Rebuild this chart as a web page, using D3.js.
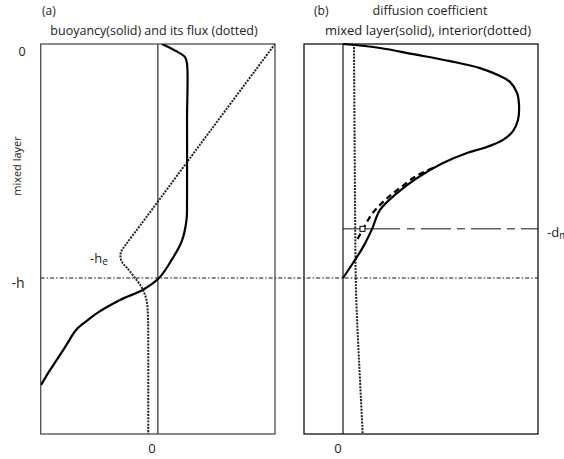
<!DOCTYPE html>
<html>
<head>
<meta charset="utf-8">
<script src="https://cdn.jsdelivr.net/npm/d3@7"></script>
<style>
  body { margin: 0; background: #fff; }
  svg text { font-family: "Open Sans", sans-serif; fill: #222; }
</style>
</head>
<body>
<div class="chartdiv"></div>
<script>
//depth is in units of h (0 = surface, -1 = -h)

//panel (a): buoyancy (solid)
var buoyDepth = [0, -0.03, -0.056, -0.085, -0.33, -0.67, -0.75, -0.84, -0.92, -1,
    -1.05, -1.094, -1.15, -1.179, -1.222, -1.286, -1.35, -1.402, -1.457];
var buoyValue = [0.035, 0.155, 0.232, 0.249, 0.249, 0.249, 0.245, 0.206, 0.121, 0.01,
    -0.127, -0.323, -0.519, -0.596, -0.698, -0.78, -0.863, -0.932, -0.997];

//panel (a): buoyancy flux (dotted)
var fluxDepth = [0, -0.43, -0.775, -0.859, -0.889, -0.91, -0.932, -0.957, -1,
    -1.043, -1.094, -1.171, -1.265, -1.667];
var fluxValue = [1.0, 0.36, -0.15, -0.276, -0.315, -0.319, -0.306, -0.263, -0.195,
    -0.135, -0.097, -0.084, -0.082, -0.082];

//panel (b): mixed layer diffusivity (solid)
var mixDepth = [0, -0.017, -0.043, -0.073, -0.103, -0.137, -0.162, -0.209, -0.261, -0.325,
    -0.372, -0.41, -0.44, -0.466, -0.509, -0.573, -0.637, -0.709, -0.791, -0.868, -0.936, -1];
var mixValue = [0, 0.949, 1.795, 2.744, 3.513, 4.026, 4.282, 4.462, 4.513, 4.487,
    4.359, 4.103, 3.692, 3.179, 2.564, 1.897, 1.385, 0.949, 0.744, 0.513, 0.256, 0];

//panel (b): matched profile above -dm (dashed)
var matchDepth = [-0.53, -0.56, -0.615, -0.667, -0.726, -0.791, -0.838];
var matchValue = [2.308, 1.923, 1.462, 1.077, 0.744, 0.513, 0.359];

//panel (b): interior diffusivity (dotted)
var intDepth = [0, -0.667, -1.051, -1.265, -1.436, -1.667];
var intValue = [0.282, 0.308, 0.333, 0.385, 0.436, 0.505];

//reference levels
var hLevel = -1;
var heLevel = -0.91;
var dmLevel = -0.79;
var dmSolidEnd = 1.46;
var matchPoint = [0.5, -0.79];

var width = 564, height = 459;

var svg = d3.select("div.chartdiv")
    .append("svg")
    .attr("width", width)
    .attr("height", height);

//shared depth scale
var y = d3.scaleLinear().domain([0, -1.6667]).range([44, 434]);

//x scales for each panel
var xa = d3.scaleLinear().domain([-1, 1]).range([40.7, 275]);
var xb = d3.scaleLinear().domain([-1, 5]).range([304, 538]);

function profile(xs, vals, deps){
    return d3.line()
        .x(function(d, i){ return xs(vals[i]); })
        .y(function(d, i){ return y(deps[i]); })
        .curve(d3.curveCatmullRom.alpha(0.5))(deps);
}

// ---- panel (a) ----
var ga = svg.append("g").attr("class", "panelA");

ga.append("rect")
    .attr("x", xa(-1)).attr("y", y(0))
    .attr("width", xa(1) - xa(-1))
    .attr("height", y(-1.6667) - y(0))
    .style("fill", "none")
    .style("stroke", "#4d4d4d")
    .style("stroke-width", 1.3);

ga.append("line")
    .attr("x1", xa(0)).attr("x2", xa(0))
    .attr("y1", y(0)).attr("y2", y(-1.6667))
    .style("stroke", "#555")
    .style("stroke-width", 1.5);

//clip curves to panel box
svg.append("clipPath").attr("id", "clipA")
    .append("rect")
    .attr("x", xa(-1)).attr("y", y(0))
    .attr("width", xa(1) - xa(-1))
    .attr("height", y(-1.6667) - y(0));

ga.append("path")
    .attr("d", profile(xa, fluxValue, fluxDepth))
    .attr("clip-path", "url(#clipA)")
    .style("fill", "none")
    .style("stroke", "#222")
    .style("stroke-width", 2)
    .style("stroke-dasharray", "2,1.2");

ga.append("path")
    .attr("d", profile(xa, buoyValue, buoyDepth))
    .attr("clip-path", "url(#clipA)")
    .style("fill", "none")
    .style("stroke", "#000")
    .style("stroke-width", 2.2);

// ---- panel (b) ----
var gb = svg.append("g").attr("class", "panelB");

gb.append("rect")
    .attr("x", xb(-1)).attr("y", y(0))
    .attr("width", xb(5) - xb(-1))
    .attr("height", y(-1.6667) - y(0))
    .style("fill", "none")
    .style("stroke", "#111")
    .style("stroke-width", 1.3);

gb.append("line")
    .attr("x1", xb(0)).attr("x2", xb(0))
    .attr("y1", y(0)).attr("y2", y(-1.6667))
    .style("stroke", "#111")
    .style("stroke-width", 1.2);

//-dm level
gb.append("line")
    .attr("x1", xb(0)).attr("x2", xb(dmSolidEnd))
    .attr("y1", y(dmLevel)).attr("y2", y(dmLevel))
    .style("stroke", "#111")
    .style("stroke-width", 1);
gb.append("line")
    .attr("x1", xb(dmSolidEnd) + 7).attr("x2", xb(5))
    .attr("y1", y(dmLevel)).attr("y2", y(dmLevel))
    .style("stroke", "#111")
    .style("stroke-width", 1)
    .style("stroke-dasharray", "8,6,30,6");

gb.append("path")
    .attr("d", profile(xb, intValue, intDepth))
    .style("fill", "none")
    .style("stroke", "#222")
    .style("stroke-width", 2)
    .style("stroke-dasharray", "2,1.2");

gb.append("path")
    .attr("d", profile(xb, matchValue, matchDepth))
    .style("fill", "none")
    .style("stroke", "#000")
    .style("stroke-width", 2.2)
    .style("stroke-dasharray", "6,4");

gb.append("path")
    .attr("d", profile(xb, mixValue, mixDepth))
    .style("fill", "none")
    .style("stroke", "#000")
    .style("stroke-width", 2.2);

gb.append("rect")
    .attr("x", xb(matchPoint[0]) - 2.5)
    .attr("y", y(matchPoint[1]) - 2.5)
    .attr("width", 5).attr("height", 5)
    .style("fill", "#fff")
    .style("stroke", "#000")
    .style("stroke-width", 1);

//-h level across both panels
svg.append("line")
    .attr("x1", xa(-1)).attr("x2", xb(5))
    .attr("y1", y(hLevel)).attr("y2", y(hLevel))
    .style("stroke", "#111")
    .style("stroke-width", 1)
    .style("stroke-dasharray", "4,2,1.5,2");

// ---- labels ----
svg.append("text").attr("x", 42).attr("y", 15)
    .style("font-size", "12px").text("(a)");
svg.append("text").attr("x", 154).attr("y", 35)
    .attr("text-anchor", "middle")
    .style("font-size", "12.5px")
    .text("buoyancy(solid) and its flux (dotted)");

svg.append("text").attr("x", 314).attr("y", 15)
    .style("font-size", "12px").text("(b)");
svg.append("text").attr("x", 430).attr("y", 15)
    .attr("text-anchor", "middle")
    .style("font-size", "12.5px")
    .text("diffusion coefficient");
svg.append("text").attr("x", 428).attr("y", 35)
    .attr("text-anchor", "middle")
    .style("font-size", "13px")
    .text("mixed layer(solid), interior(dotted)");

svg.append("text").attr("x", 22).attr("y", y(0) + 12)
    .attr("text-anchor", "middle")
    .style("font-size", "12.5px").text("0");

svg.append("text")
    .attr("transform", "translate(21," + 166 + ") rotate(-90)")
    .attr("text-anchor", "middle")
    .style("font-size", "11px")
    .text("mixed layer");

svg.append("text").attr("x", 18).attr("y", y(hLevel) + 10)
    .attr("text-anchor", "middle")
    .style("font-size", "14px").text("-h");

var he = svg.append("text").attr("x", 90).attr("y", y(heLevel) + 6)
    .style("font-size", "13px");
he.append("tspan").text("-h");
he.append("tspan").attr("dy", 2).style("font-size", "10px").text("e");

var dm = svg.append("text").attr("x", 547).attr("y", y(dmLevel) + 8)
    .style("font-size", "13px");
dm.append("tspan").text("-d");
dm.append("tspan").attr("dy", 2).style("font-size", "10px").text("m");

svg.append("text").attr("x", xa(0) - 6).attr("y", 453)
    .attr("text-anchor", "middle")
    .style("font-size", "13px").text("0");
svg.append("text").attr("x", xb(0) - 5).attr("y", 453)
    .attr("text-anchor", "middle")
    .style("font-size", "13px").text("0");
</script>
</body>
</html>
